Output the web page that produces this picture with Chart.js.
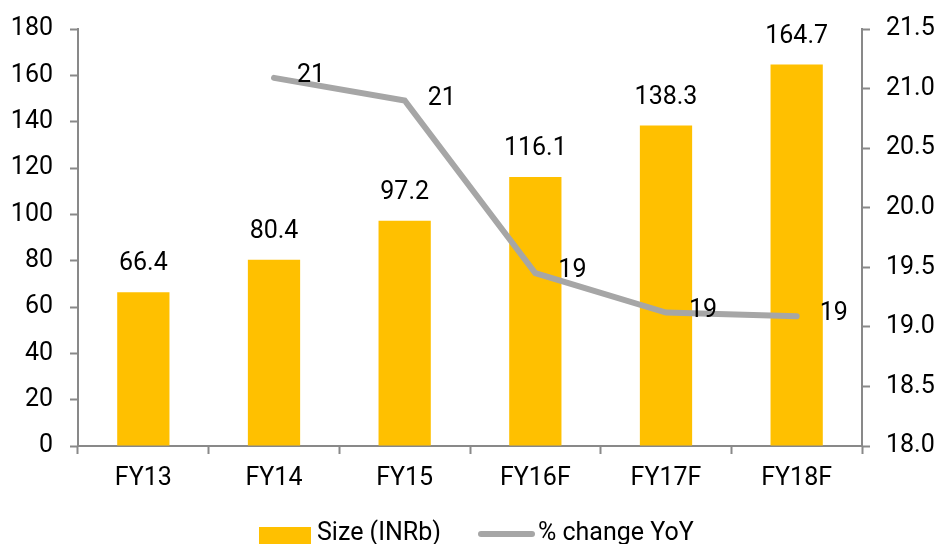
<!DOCTYPE html>
<html>
<head>
<meta charset="utf-8">
<script src="https://cdn.jsdelivr.net/npm/chart.js@4.4.1/dist/chart.umd.min.js"></script>
<style>
  html, body { margin: 0; padding: 0; background: #fff; overflow: hidden; }
  #wrap { width: 940px; height: 544px; }
</style>
</head>
<body>
<div id="wrap"><canvas id="chart"></canvas></div>
<script>
const years = ['FY13', 'FY14', 'FY15', 'FY16F', 'FY17F', 'FY18F'];
const sizeINRb = [66.4, 80.4, 97.2, 116.1, 138.3, 164.7];
const changeYoY = [null, 21.09, 20.90, 19.45, 19.12, 19.09];

const FONT = "Roboto, 'DejaVu Sans', sans-serif";
const axisGrey = '#898989';

Chart.defaults.font.family = FONT;
Chart.defaults.font.size = 25;
Chart.defaults.color = '#000';

// value labels: above bars, to the right of line points
const valueLabels = {
  id: 'valueLabels',
  afterDatasetsDraw(chart) {
    const ctx = chart.ctx;
    ctx.save();
    ctx.font = '25px ' + FONT;
    ctx.fillStyle = '#000';
    chart.data.datasets.forEach((ds, di) => {
      const meta = chart.getDatasetMeta(di);
      meta.data.forEach((el, i) => {
        const v = ds.data[i];
        if (v === null) return;
        if (ds.type === 'bar') {
          ctx.textAlign = 'center';
          ctx.textBaseline = 'middle';
          ctx.fillText(v.toFixed(1), el.x, el.y - 28);
        } else {
          ctx.textAlign = 'left';
          ctx.textBaseline = 'middle';
          ctx.fillText(Math.round(v), el.x + 23, el.y - 2);
        }
      });
    });
    ctx.restore();
  }
};

// legend sits at the very bottom, partly clipped like the source
const bottomLegend = {
  id: 'bottomLegend',
  afterDraw(chart) {
    const ctx = chart.ctx;
    const bar = chart.data.datasets[1];
    const line = chart.data.datasets[0];
    ctx.save();
    ctx.font = '25px ' + FONT;
    ctx.fillStyle = bar.backgroundColor;
    ctx.fillRect(259, 527, 52, 18);
    ctx.fillStyle = '#000';
    ctx.textAlign = 'left';
    ctx.textBaseline = 'alphabetic';
    ctx.fillText(bar.label, 317, 540);
    ctx.strokeStyle = line.borderColor;
    ctx.lineWidth = 6;
    ctx.lineCap = 'round';
    ctx.beginPath();
    ctx.moveTo(481, 534);
    ctx.lineTo(532, 534);
    ctx.stroke();
    ctx.fillText(line.label, 538, 540);
    ctx.restore();
  }
};

const fitY = (scale) => {
  scale.width = 78;
  scale.paddingTop = 0;
  scale.paddingBottom = 0;
};

new Chart(document.getElementById('chart'), {
  data: {
    labels: years,
    datasets: [
      {
        type: 'line',
        label: '% change YoY',
        data: changeYoY,
        yAxisID: 'y2',
        borderColor: '#A6A6A6',
        borderWidth: 6,
        borderCapStyle: 'round',
        borderJoinStyle: 'miter',
        tension: 0,
        pointRadius: 0,
        order: 0,
      },
      {
        type: 'bar',
        label: 'Size (INRb)',
        data: sizeINRb,
        yAxisID: 'y',
        backgroundColor: '#FFC000',
        categoryPercentage: 1,
        barPercentage: 0.4,
        order: 1,
      }
    ]
  },
  options: {
    responsive: true,
    maintainAspectRatio: false,
    animation: false,
    layout: { padding: { top: 29, left: 0, right: 0, bottom: 0 } },
    plugins: {
      legend: { display: false },
      tooltip: { enabled: false },
    },
    scales: {
      x: {
        offset: true,
        border: { color: axisGrey, width: 2 },
        grid: {
          offset: true,
          drawOnChartArea: false,
          drawTicks: true,
          tickLength: 8,
          tickColor: axisGrey,
          tickWidth: 2,
        },
        ticks: { padding: 10, font: { size: 25 } },
        afterFit(scale) { scale.height = 98; },
      },
      y: {
        position: 'left',
        min: 0,
        max: 180,
        border: { color: axisGrey, width: 2 },
        grid: {
          drawOnChartArea: false,
          tickLength: 8,
          tickColor: axisGrey,
          tickWidth: 2,
        },
        ticks: { stepSize: 20, padding: 17 },
        afterFit: fitY,
      },
      y2: {
        position: 'right',
        min: 18,
        max: 21.5,
        border: { color: axisGrey, width: 2 },
        grid: {
          drawOnChartArea: false,
          tickLength: 8,
          tickColor: axisGrey,
          tickWidth: 2,
        },
        ticks: {
          stepSize: 0.5,
          padding: 16,
          callback: (v) => Number(v).toFixed(1),
        },
        afterFit: fitY,
      }
    }
  },
  plugins: [valueLabels, bottomLegend]
});
</script>
</body>
</html>
